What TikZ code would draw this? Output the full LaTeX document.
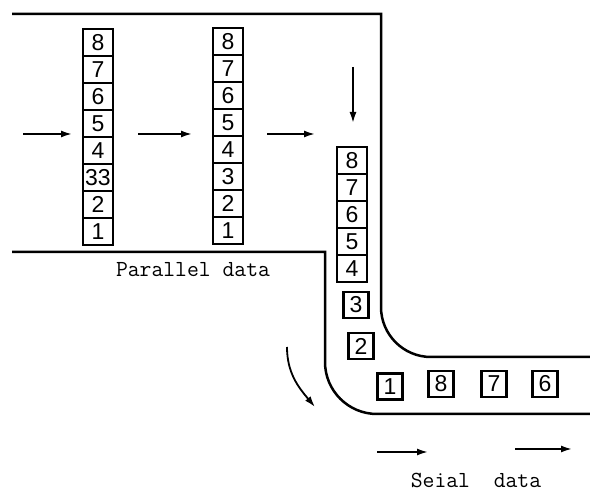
\documentclass[tikz,border=0pt]{standalone}
\usepackage{fontspec}
\newfontfamily\digitfont{Liberation Sans}
\usetikzlibrary{positioning, arrows.meta}

\begin{document}
\begin{tikzpicture}[
    x=1pt, y=1pt,
    node distance=0pt,
    % Celdas de las columnas paralelas: bordes negros gruesos
    cell/.style={
        rectangle,
        draw=black,
        line width=2.5pt,
        outer sep=0pt,
        inner sep=0pt,
        minimum width=30pt,
        minimum height=27pt,
        font=\digitfont\fontsize{23}{23}\selectfont
    },
    bit/.style={cell, minimum width=25pt, minimum height=26pt},
    wall/.style={line width=2.5pt, draw=black},
    arr/.style={-{Latex[length=11pt, width=7pt]}, line width=1.8pt, draw=black},
    lbl/.style={font=\ttfamily\fontsize{23}{25}\selectfont}
]
    \useasboundingbox (0,0) rectangle (590,503);

    % --- PAREDES DEL CANAL ---
    \draw[wall] (12,489) -- (381,489) -- (381,196)
        arc[start angle=180, end angle=270, radius=50pt] -- (590,146);
    \draw[wall] (12,251) -- (325,251) -- (325,141)
        arc[start angle=180, end angle=270, radius=52pt] -- (590,89);

    % --- PRIMERA COLUMNA ---
    \node[cell] (pa8) at (98,460.5) {8};
    \node[cell, below=of pa8] (pa7) {7};
    \node[cell, below=of pa7] (pa6) {6};
    \node[cell, below=of pa6] (pa5) {5};
    \node[cell, below=of pa5] (pa4) {4};
    \node[cell, below=of pa4] (pa3) {33};
    \node[cell, below=of pa3] (pa2) {2};
    \node[cell, below=of pa2] (pa1) {1};

    % --- SEGUNDA COLUMNA ---
    \node[cell] (pb8) at (228,461.5) {8};
    \node[cell, below=of pb8] (pb7) {7};
    \node[cell, below=of pb7] (pb6) {6};
    \node[cell, below=of pb6] (pb5) {5};
    \node[cell, below=of pb5] (pb4) {4};
    \node[cell, below=of pb4] (pb3) {3};
    \node[cell, below=of pb3] (pb2) {2};
    \node[cell, below=of pb2] (pb1) {1};

    % --- COLUMNA EN LA ESQUINA ---
    \node[cell] (pc8) at (352,342.5) {8};
    \node[cell, below=of pc8] (pc7) {7};
    \node[cell, below=of pc7] (pc6) {6};
    \node[cell, below=of pc6] (pc5) {5};
    \node[cell, below=of pc5] (pc4) {4};

    % --- BITS EN SERIE ---
    \node[bit] (sq3) at (356,198) {3};
    \node[bit] (sq2) at (361,157) {2};
    \node[bit] (sq1) at (390,116.5) {1};
    \node[bit] (sq8) at (441,119) {8};
    \node[bit] (sq7) at (494,119) {7};
    \node[bit] (sq6) at (545,119) {6};

    % --- FLECHAS ---
    \coordinate (a1) at (23,369);  \coordinate (a1e) at (72,369);
    \coordinate (a2) at (138,369); \coordinate (a2e) at (192,369);
    \coordinate (a3) at (267,369); \coordinate (a3e) at (315,369);
    \coordinate (dn) at (353,436); \coordinate (dne) at (353,380);
    \coordinate (cv) at (287,156); \coordinate (cve) at (315,96);
    \coordinate (s1) at (377,51);  \coordinate (s1e) at (428,51);
    \coordinate (s2) at (515,54);  \coordinate (s2e) at (572,54);

    \draw[arr] (a1) -- (a1e);
    \draw[arr] (a2) -- (a2e);
    \draw[arr] (a3) -- (a3e);
    \draw[arr] (dn) -- (dne);
    \draw[arr] (cv) to[out=-90, in=130] (cve);
    \draw[arr] (s1) -- (s1e);
    \draw[arr] (s2) -- (s2e);

    % --- TEXTOS ---
    \node[lbl] (par) at (193,233) {Parallel data};
    \node[lbl] (ser) at (476,23) {Seial\ \ data};

\end{tikzpicture}
\end{document}
